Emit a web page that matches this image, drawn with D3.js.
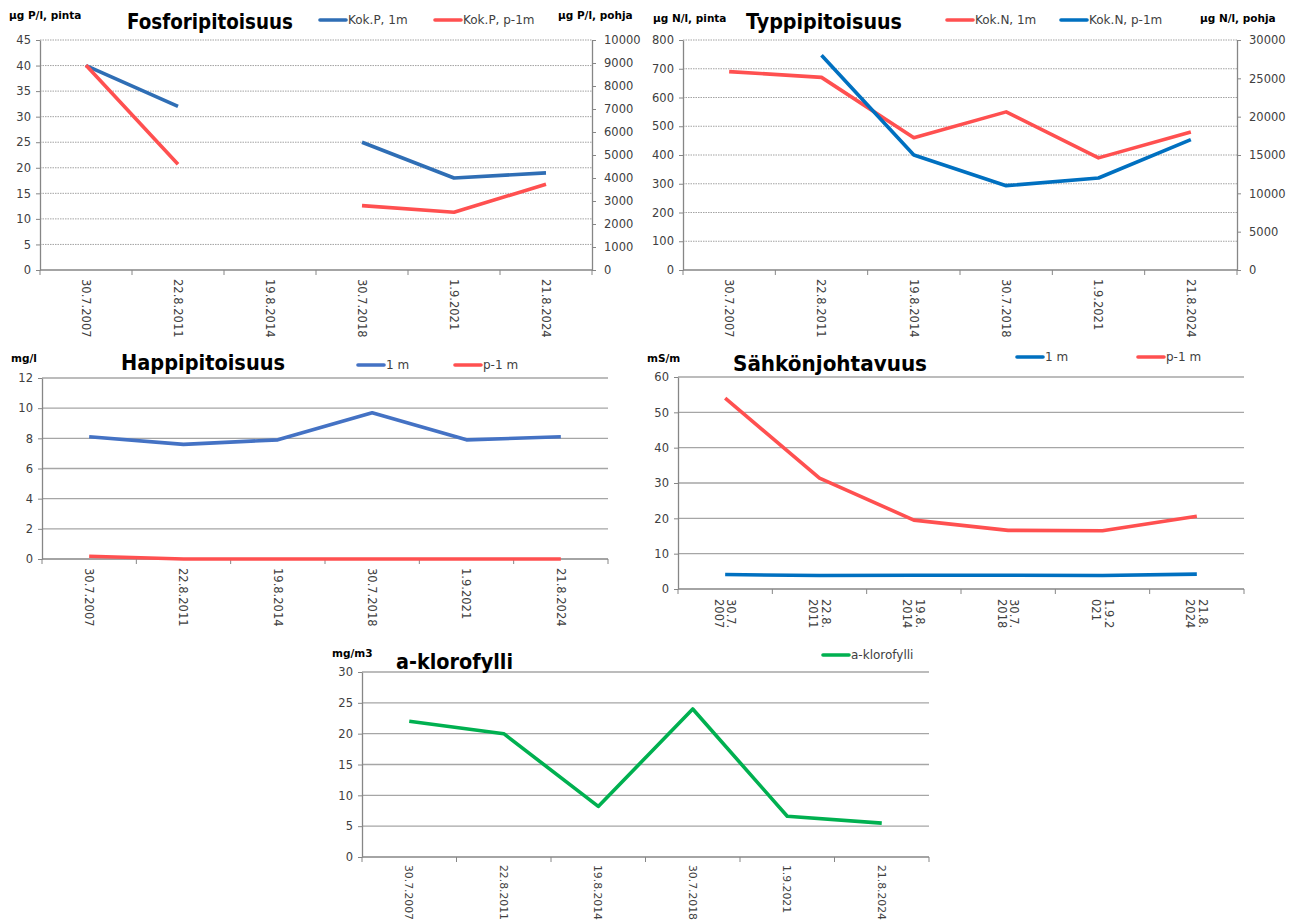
<!DOCTYPE html>
<html>
<head>
<meta charset="utf-8">
<script src="https://cdn.jsdelivr.net/npm/d3@7"></script>
<style>
  body { margin: 0; background: #fff; }
  svg { display: block; }
  text { font-family: "DejaVu Sans", sans-serif; }
</style>
</head>
<body>
<svg id="charts" width="1298" height="924"></svg>
<script>
// sample dates (category axis)
const dates = ["30.7.2007", "22.8.2011", "19.8.2014", "30.7.2018", "1.9.2021", "21.8.2024"];
// the conductivity chart wraps its date labels in two lines
const sahkoLabels = [["30.7.", "2007"], ["22.8.", "2011"], ["19.8.", "2014"],
                     ["30.7.", "2018"], ["1.9.2", "021"], ["21.8.", "2024"]];

// phosphorus, µg P/l
const kokP1m = [40, 32, null, 25, 18, 19];
const kokPp1m = [8900, 4600, null, 2800, 2510, 3730];
// nitrogen, µg N/l
const kokN1m = [690, 670, 460, 550, 390, 480];
const kokNp1m = [null, 28000, 15000, 11000, 12000, 17000];
// oxygen, mg/l
const happi1m = [8.1, 7.6, 7.9, 9.7, 7.9, 8.1];
const happiP1m = [0.18, 0, 0, 0, 0, 0];
// conductivity, mS/m
const sahko1m = [4.1, 3.8, 3.9, 3.9, 3.8, 4.2];
const sahkoP1m = [54, 31.4, 19.5, 16.6, 16.5, 20.6];
// chlorophyll a, mg/m3
const klorofylli = [22, 20, 8.2, 24, 6.6, 5.5];

// tick values
const ticksP = [0, 5, 10, 15, 20, 25, 30, 35, 40, 45];
const ticksPright = [0, 1000, 2000, 3000, 4000, 5000, 6000, 7000, 8000, 9000, 10000];
const ticksN = [0, 100, 200, 300, 400, 500, 600, 700, 800];
const ticksNright = [0, 5000, 10000, 15000, 20000, 25000, 30000];
const ticksHappi = [0, 2, 4, 6, 8, 10, 12];
const ticksSahko = [0, 10, 20, 30, 40, 50, 60];
const ticksKloro = [0, 5, 10, 15, 20, 25, 30];

const RED = "#ff5050";
const textCol = "#404040";
const axisCol = "#868686";
const svg = d3.select("#charts");

function drawChart(cfg) {
  const g = svg.append("g");
  const x = d3.scaleBand().domain(dates).range([cfg.x0, cfg.x1]);
  const y = d3.scaleLinear().domain([0, d3.max(cfg.ticks)]).range([cfg.y0, cfg.y1]);
  let y2 = null;
  if (cfg.rightTicks) {
    y2 = d3.scaleLinear().domain([0, d3.max(cfg.rightTicks)]).range([cfg.y0, cfg.y1]);
  }
  const fontSize = cfg.fontSize || 11.5;

  // gridlines
  g.append("g").selectAll("line")
    .data(cfg.ticks.filter(d => d > 0))
    .join("line")
    .attr("x1", cfg.x0).attr("x2", cfg.x1)
    .attr("y1", d => y(d)).attr("y2", d => y(d))
    .attr("stroke", cfg.dotted ? "#8c8c8c" : "#a6a6a6")
    .attr("stroke-width", cfg.dotted ? 0.8 : 1.3)
    .attr("stroke-dasharray", cfg.dotted ? "1.5,1" : null);

  // left axis
  const left = g.append("g")
    .attr("transform", `translate(${cfg.x0},0)`)
    .call(d3.axisLeft(y).tickValues(cfg.ticks).tickFormat(d3.format("d"))
      .tickSize(4).tickPadding(5).tickSizeOuter(0));
  left.select(".domain").attr("stroke", axisCol).attr("stroke-width", 1.3);
  left.selectAll(".tick line").attr("stroke", axisCol);
  left.selectAll("text").attr("fill", textCol).attr("font-size", 11.5)
    .attr("font-family", "DejaVu Sans");

  // right axis
  if (y2) {
    const right = g.append("g")
      .attr("transform", `translate(${cfg.x1},0)`)
      .call(d3.axisRight(y2).tickValues(cfg.rightTicks).tickFormat(d3.format("d"))
        .tickSize(4).tickPadding(8).tickSizeOuter(0));
    right.select(".domain").attr("stroke", axisCol).attr("stroke-width", 1.3);
    right.selectAll(".tick line").attr("stroke", axisCol);
    right.selectAll("text").attr("fill", textCol).attr("font-size", 11.5)
      .attr("font-family", "DejaVu Sans");
  }

  // x axis line + tick marks on band boundaries
  g.append("line")
    .attr("x1", cfg.x0).attr("x2", cfg.x1)
    .attr("y1", cfg.y0).attr("y2", cfg.y0)
    .attr("stroke", axisCol).attr("stroke-width", 1.3);
  const bounds = dates.map(d => x(d)).concat([cfg.x1]);
  g.append("g").selectAll("line")
    .data(bounds)
    .join("line")
    .attr("x1", d => d).attr("x2", d => d)
    .attr("y1", cfg.y0).attr("y2", cfg.y0 + 5)
    .attr("stroke", axisCol).attr("stroke-width", 1);

  // x labels, rotated 90 degrees
  const labels = cfg.xLabels || dates.map(d => [d]);
  const lab = g.append("g").selectAll("text")
    .data(dates)
    .join("text")
    .attr("transform", d => `translate(${x(d) + x.bandwidth() / 2},${cfg.y0 + cfg.labelGap}) rotate(90)`)
    .attr("text-anchor", "start")
    .attr("fill", textCol)
    .attr("font-size", fontSize);
  lab.each(function(d, i) {
    const lines = labels[i];
    const el = d3.select(this);
    lines.forEach((t, j) => {
      el.append("tspan")
        .attr("x", 0)
        .attr("dy", j === 0 ? (0.35 - (lines.length - 1) * 0.55) + "em" : "1.1em")
        .text(t);
    });
  });

  // series lines
  cfg.series.forEach(s => {
    const ys = s.right ? y2 : y;
    const line = d3.line()
      .defined(d => d.v != null)
      .x(d => x(d.k) + x.bandwidth() / 2)
      .y(d => ys(d.v));
    g.append("path")
      .datum(dates.map((k, i) => ({ k: k, v: s.values[i] })))
      .attr("d", line)
      .attr("fill", "none")
      .attr("stroke", s.color)
      .attr("stroke-width", 3.6)
      .attr("stroke-linejoin", "round");
  });

  // title
  g.append("text")
    .attr("x", cfg.title.x).attr("y", cfg.title.y)
    .attr("font-family", "Liberation Sans, Arial, sans-serif")
    .attr("font-weight", "bold")
    .attr("font-size", 21)
    .attr("fill", "#000")
    .attr("textLength", cfg.title.w)
    .attr("lengthAdjust", "spacingAndGlyphs")
    .text(cfg.title.text);

  // axis unit labels
  cfg.units.forEach(u => {
    g.append("text")
      .attr("x", u.x).attr("y", u.y)
      .attr("font-weight", "bold")
      .attr("font-size", 10.5)
      .attr("fill", "#000")
      .text(u.text);
  });

  // legend
  cfg.legend.forEach(l => {
    g.append("line")
      .attr("x1", l.x).attr("x2", l.x + 26)
      .attr("y1", cfg.legendY).attr("y2", cfg.legendY)
      .attr("stroke", l.color).attr("stroke-width", 3.6)
      .attr("stroke-linecap", "round");
    g.append("text")
      .attr("x", l.x + 28).attr("y", cfg.legendY)
      .attr("dy", "0.35em")
      .attr("font-size", 12)
      .attr("fill", textCol)
      .text(l.text);
  });
}

// 1. Fosforipitoisuus
drawChart({
  x0: 40, x1: 592, y0: 270, y1: 40, dotted: true, labelGap: 9,
  ticks: ticksP, rightTicks: ticksPright,
  series: [
    { values: kokP1m, color: "#2f6eb5" },
    { values: kokPp1m, color: RED, right: true }
  ],
  title: { text: "Fosforipitoisuus", x: 127, y: 29, w: 166 },
  units: [{ text: "µg P/l, pinta", x: 9, y: 19 }, { text: "µg P/l, pohja", x: 558, y: 19 }],
  legendY: 20,
  legend: [
    { text: "Kok.P, 1m", color: "#2f6eb5", x: 320 },
    { text: "Kok.P, p-1m", color: RED, x: 435 }
  ]
});

// 2. Typpipitoisuus
drawChart({
  x0: 683, x1: 1237, y0: 270, y1: 40, dotted: true, labelGap: 9,
  ticks: ticksN, rightTicks: ticksNright,
  series: [
    { values: kokN1m, color: RED },
    { values: kokNp1m, color: "#0070c0", right: true }
  ],
  title: { text: "Typpipitoisuus", x: 746, y: 29, w: 156 },
  units: [{ text: "µg N/l, pinta", x: 653, y: 22 }, { text: "µg N/l, pohja", x: 1200, y: 22 }],
  legendY: 20,
  legend: [
    { text: "Kok.N, 1m", color: RED, x: 947 },
    { text: "Kok.N, p-1m", color: "#0070c0", x: 1061 }
  ]
});

// 3. Happipitoisuus
drawChart({
  x0: 42, x1: 608, y0: 559, y1: 378, dotted: false, labelGap: 9,
  ticks: ticksHappi,
  series: [
    { values: happi1m, color: "#4472c4" },
    { values: happiP1m, color: RED }
  ],
  title: { text: "Happipitoisuus", x: 121, y: 370, w: 164 },
  units: [{ text: "mg/l", x: 11, y: 362 }],
  legendY: 365,
  legend: [
    { text: "1 m", color: "#4472c4", x: 358 },
    { text: "p-1 m", color: RED, x: 455 }
  ]
});

// 4. Sähkönjohtavuus
drawChart({
  x0: 678, x1: 1244, y0: 589, y1: 377, dotted: false, labelGap: 10,
  ticks: ticksSahko, xLabels: sahkoLabels,
  series: [
    { values: sahko1m, color: "#0070c0" },
    { values: sahkoP1m, color: RED }
  ],
  title: { text: "Sähkönjohtavuus", x: 733, y: 371, w: 194 },
  units: [{ text: "mS/m", x: 647, y: 362 }],
  legendY: 357,
  legend: [
    { text: "1 m", color: "#0070c0", x: 1017 },
    { text: "p-1 m", color: RED, x: 1138 }
  ]
});

// 5. a-klorofylli
drawChart({
  x0: 362, x1: 929, y0: 857, y1: 672, dotted: false, labelGap: 8, fontSize: 10.8,
  ticks: ticksKloro,
  series: [
    { values: klorofylli, color: "#00b050" }
  ],
  title: { text: "a-klorofylli", x: 396, y: 669, w: 117 },
  units: [{ text: "mg/m3", x: 332, y: 657 }],
  legendY: 655,
  legend: [
    { text: "a-klorofylli", color: "#00b050", x: 823 }
  ]
});
</script>
</body>
</html>
